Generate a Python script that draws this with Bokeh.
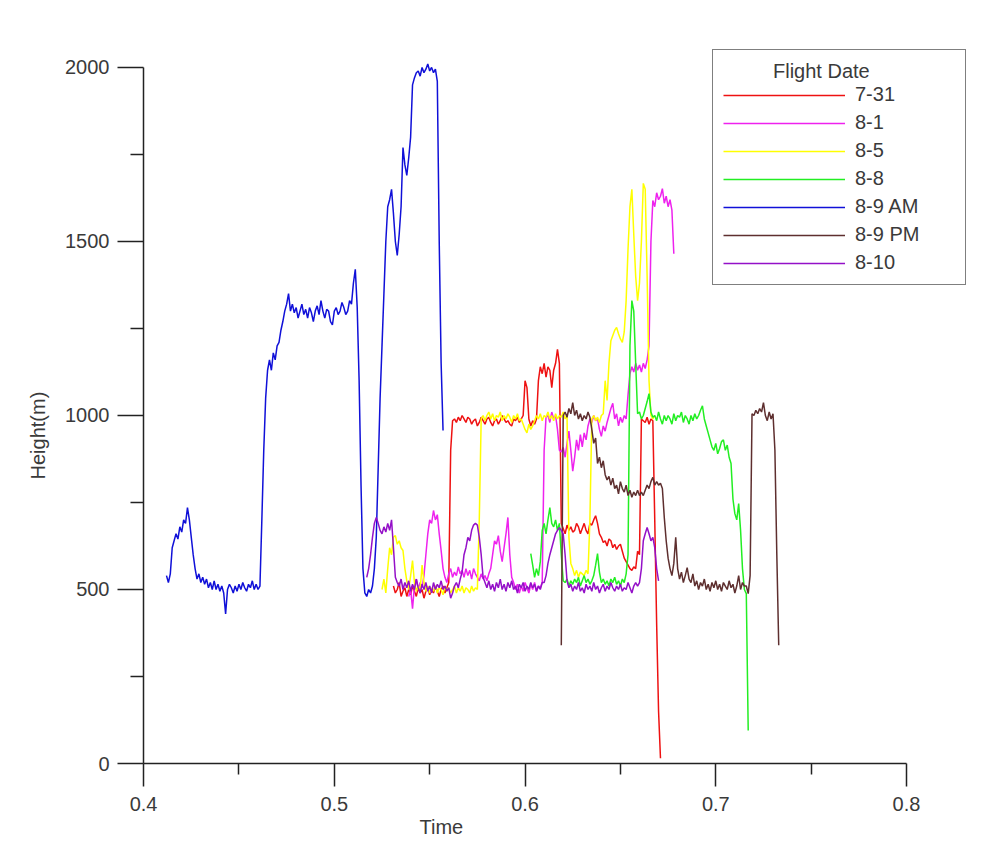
import numpy as np
from bokeh.plotting import figure
from bokeh.models import Range1d, FixedTicker, Legend, LegendItem, Title, ColumnDataSource
from bokeh.embed import file_html
from bokeh.resources import INLINE

# ---------------- data ----------------
SAMPLE_STEP = 0.001  # sampling interval of every flight log (time units)

names = ["7-31", "8-1", "8-5", "8-8", "8-9 AM", "8-9 PM", "8-10"]
colors = ["#ee1111", "#ee22ee", "#ffff00", "#22ee22", "#1010d8", "#5e2f2f", "#9410c8"]

start_7_31 = 0.531
h_7_31 = [510, 490, 500, 520, 480, 495, 505, 480, 500, 485, 510, 495, 480, 505, 490, 500, 475, 495, 505, 485,
          500, 490, 510, 495, 480, 500, 510, 490, 505, 520,
          900, 985, 990, 980, 995, 985, 1000, 990, 980, 995, 990, 975, 985, 990, 970, 980, 995, 985, 975, 990,
          995, 980, 970, 985, 990, 975, 985, 1000, 990, 980, 985, 975, 970, 990, 985, 995, 980, 990, 1000,
          1100, 1080, 990, 970, 985, 975, 990, 1100, 1140, 1120, 1150, 1110, 1140, 1130, 1080, 1130, 1150, 1190, 1150,
          690, 675, 660, 685, 670, 680, 665, 670, 690, 680, 660, 675, 690, 670, 660, 690, 685, 700, 712, 690,
          660, 650, 635, 640, 625, 645, 640, 620, 630, 615, 625, 630, 610, 590, 580, 570, 560, 555, 565, 560, 610, 600,
          990, 985, 980, 995, 975, 990, 985, 700, 400, 150, 15]

start_8_1 = 0.539
h_8_1 = [480, 500, 445, 510, 530, 500, 520, 505, 540, 600, 660, 700, 690, 727, 700, 715, 660, 612, 560, 535, 520, 545,
         560, 535, 550, 540, 565, 545, 555, 535, 560, 540, 555, 530, 560, 545, 535, 525, 545, 530, 540, 525, 545, 560,
         600, 640, 630, 655, 610, 580, 620, 660, 707, 600, 535, 520, 500, 515, 490, 510, 495, 520, 505, 490, 515, 500,
         520, 495, 510, 505, 520,
         900, 995, 1000, 980, 1010, 990, 1000, 960, 900, 895, 908, 880, 920, 955, 900, 840, 880, 930, 900, 945,
         910, 950, 930, 970, 990, 980, 1000, 985, 990, 960, 940, 970, 955, 980, 1000, 1020, 1035, 990, 1005, 970,
         995, 980, 1000, 990,
         1060, 1120, 1140, 1125, 1150, 1130, 1145, 1125, 1150, 1135, 1160, 1200, 1500, 1618, 1600, 1640, 1620, 1630,
         1652, 1610, 1630, 1600, 1620, 1590, 1465]

start_8_5 = 0.525
h_8_5 = [500, 530, 490, 560, 620, 600, 650, 655, 630, 640, 620, 612, 560, 525, 500, 540, 583, 520, 495, 510,
         500, 570, 520, 495, 510, 490,
         505, 495, 510, 490, 505, 500, 485, 510, 495, 505, 490, 500, 510, 490, 505, 495, 510, 490, 505, 500,
         490, 510, 495, 505, 500,
         700, 990, 1000, 985, 1000, 1010, 990, 1005, 985, 1000, 995, 1010, 985, 1000, 990, 1005, 995, 980, 1000, 990,
         1005, 985, 990, 975, 960, 950, 975, 960, 970, 985, 1000, 990, 1005, 985, 1000, 995, 1010, 990, 1000, 985,
         1005, 990, 1000, 995, 1010, 990, 1000,
         650, 575, 560, 540, 555, 535, 550, 545, 540, 555, 545,
         700, 990, 1000, 985, 995, 980, 1000, 1005, 1100, 1043, 1150, 1215, 1230, 1245, 1253, 1235, 1220, 1210,
         1240, 1330, 1480, 1600, 1650, 1520, 1400, 1330, 1380, 1500, 1667, 1650, 1400, 1100, 1000, 990, 1000]

start_8_8 = 0.603
h_8_8 = [603, 570, 535, 560, 540, 580, 670, 690, 660, 700, 735, 690, 680, 700, 670, 690, 600, 525,
         520, 530, 510, 525, 515, 530, 520, 535, 510, 525, 540, 520, 530, 515, 525, 540, 570, 603, 550, 520,
         530, 515, 525, 510, 530, 520, 535, 515, 525, 510, 530, 520, 545,
         600, 1200, 1330, 1300, 1150, 1005, 1010,
         990, 1000, 1020, 1040, 1063, 1010, 995, 1000, 985, 1010, 990, 975, 1000, 985, 1000, 990, 975, 1005, 985,
         1000, 995, 1010, 980, 1000, 990, 975, 1000, 985, 1005, 990, 1000, 1015, 1028,
         990, 970, 950, 930, 910, 900, 920, 890, 905, 925, 930, 900, 915, 880, 862, 760, 718, 700, 747, 670,
         560, 500, 488, 95]

start_8_9am = 0.412
h_8_9am = [540, 520, 545, 620, 640, 660, 645, 680, 665, 700, 690, 735, 700, 650, 600, 560, 530, 545, 520, 535,
           515, 530, 505, 520, 500, 525, 500, 515, 495, 510, 490, 430, 500, 515, 505, 490, 510, 495, 515, 500,
           520, 505, 495, 515, 505, 525, 500, 515, 500, 510, 700, 900, 1050, 1130, 1160, 1130, 1180, 1160, 1200, 1210,
           1245, 1270, 1300, 1320, 1350, 1300, 1320, 1295, 1310, 1280, 1300, 1320, 1290, 1305, 1280, 1310, 1295, 1270,
           1300, 1315, 1290, 1330, 1300, 1280, 1305, 1300, 1270, 1260, 1300, 1310, 1290, 1300, 1325, 1310, 1290, 1300,
           1330, 1320, 1380, 1420, 1310, 1100, 800, 560, 490, 480, 500, 490, 510, 560, 650, 850, 1050, 1200, 1350,
           1500, 1600, 1620, 1650, 1580, 1500, 1460, 1520, 1600, 1770, 1720, 1690, 1740, 1800, 1950, 1970, 1985, 1990,
           1975, 2000, 1985, 1995, 2010, 1990, 2000, 1985, 1995, 1960, 1500, 1150, 957]

start_8_9pm = 0.619
h_8_9pm = [340, 1000, 1010, 995, 1020, 1005, 1037, 1000, 1015, 990, 1005, 985, 1000, 990, 1010, 995,
           960, 920, 935, 862, 880, 850, 870, 830, 815, 825, 800, 820, 790, 800, 775, 810, 790, 780, 800, 770,
           785, 765, 780, 770, 785,
           770, 780, 770, 785, 800, 790, 810, 822, 800, 810, 800, 805, 790,
           707, 640, 590, 560, 540, 575, 650, 560, 530, 550, 520, 540, 563,
           530, 520, 545, 510, 525, 500, 520, 510, 530, 500, 515, 495, 520, 505, 525, 500, 515, 495, 520, 510,
           500, 525, 505, 515, 490, 510, 540, 500, 520, 510, 510, 488, 540,
           1005, 1000, 1015, 1005, 1020, 1010, 1037, 1000, 985, 1010, 990, 1005, 900, 600, 340]

start_8_10 = 0.517
h_8_10 = [535, 560, 600, 650, 690, 707, 690, 670, 660, 680, 665, 690, 670, 700, 620, 535,
          520, 510, 530, 500, 520, 505, 525, 495, 515, 500, 530, 505, 490, 515, 500, 520, 495, 510, 490, 520,
          500, 515, 505, 525, 500, 510, 495, 505, 475, 490, 510, 520, 505,
          530, 550, 600, 620, 650, 640, 670, 685, 690, 685, 650, 600, 535,
          520, 505, 525, 500, 515, 495, 520, 505, 530, 500, 515, 495, 520, 505, 525, 500, 510, 490, 515, 505,
          520, 495, 510, 500, 520, 505, 515, 495, 510, 500, 520,
          520, 540, 575, 600, 620, 640, 660, 670, 678, 670, 660, 600, 525,
          505, 515, 495, 510, 500, 520, 495, 505, 490, 515, 500, 510, 495, 520, 500, 510, 490, 505, 515, 495,
          510, 500, 520, 505, 495, 510, 500, 515, 495, 505, 500, 520, 505, 490, 510, 520, 510, 520,
          560, 640, 660, 678, 660, 640, 650, 620, 560, 525]

series_starts = [start_7_31, start_8_1, start_8_5, start_8_8, start_8_9am, start_8_9pm, start_8_10]
series_heights = [h_7_31, h_8_1, h_8_5, h_8_8, h_8_9am, h_8_9pm, h_8_10]

x_ticks = [0.4, 0.5, 0.6, 0.7, 0.8]
x_minor = [0.45, 0.55, 0.65, 0.75]
y_ticks = [0, 500, 1000, 1500, 2000]
y_minor = [250, 750, 1250, 1750]

# ---------------- figure ----------------
FONT = "Liberation Sans"
TXT = "#3a3a3a"
AX = "#222222"

p = figure(width=994, height=849, output_backend="svg", toolbar_location=None,
           x_range=Range1d(0.39995, 0.83355), y_range=Range1d(0, 2135),
           min_border_left=143, min_border_right=24, min_border_top=20, min_border_bottom=86)
p.outline_line_color = None
p.xgrid.visible = False
p.ygrid.visible = False
p.background_fill_color = "white"
p.border_fill_color = "white"

renderers = []
for start, hs, col in zip(series_starts, series_heights, colors):
    t = np.round(start + SAMPLE_STEP * np.arange(len(hs)), 4)
    src = ColumnDataSource(dict(t=t, h=hs))
    r = p.line("t", "h", source=src, line_color=col, line_width=1.5)
    renderers.append(r)

for ax in (p.xaxis[0], p.yaxis[0]):
    ax.axis_line_color = AX
    ax.axis_line_width = 1.5
    ax.major_tick_line_color = AX
    ax.minor_tick_line_color = AX
    ax.major_tick_line_width = 1.5
    ax.minor_tick_line_width = 1.5
    ax.major_tick_in = 0
    ax.minor_tick_in = 0
    ax.major_label_text_font = FONT
    ax.major_label_text_font_size = "20px"
    ax.major_label_text_color = TXT

p.xaxis.ticker = FixedTicker(ticks=x_ticks, minor_ticks=x_minor)
p.xaxis.major_tick_out = 23
p.xaxis.minor_tick_out = 11
p.xaxis.major_label_standoff = 10
p.xaxis.bounds = (0.39995, 0.8)

p.yaxis.ticker = FixedTicker(ticks=y_ticks, minor_ticks=y_minor)
p.yaxis.major_tick_out = 26
p.yaxis.minor_tick_out = 13
p.yaxis.major_label_standoff = 8
p.yaxis.bounds = (0, 2000)

# axis titles as side-panel titles
p.add_layout(Title(text="Time", align="left", offset=276, standoff=0,
                   text_font=FONT, text_font_size="20px", text_font_style="normal",
                   text_color=TXT), "below")
p.add_layout(Title(text="Height(m)", align="left", offset=284, standoff=28,
                   text_font=FONT, text_font_size="20px", text_font_style="normal",
                   text_color=TXT), "left")

# legend
items = [LegendItem(label=n, renderers=[r]) for n, r in zip(names, renderers)]
legend = Legend(items=items, location=(569, 478), title="\u00a0" * 9 + "Flight Date",
                border_line_color="black", border_line_width=1.5,
                background_fill_color="white", background_fill_alpha=1.0,
                padding=10, margin=0, spacing=5, glyph_width=122, glyph_height=20,
                label_height=20, label_width=100, label_standoff=10,
                label_text_font=FONT, label_text_font_size="20px", label_text_color=TXT,
                title_text_font=FONT, title_text_font_size="20px", title_text_font_style="normal",
                title_text_color=TXT, title_standoff=0)
p.add_layout(legend)

open("out.html", "w").write(file_html(p, INLINE))
